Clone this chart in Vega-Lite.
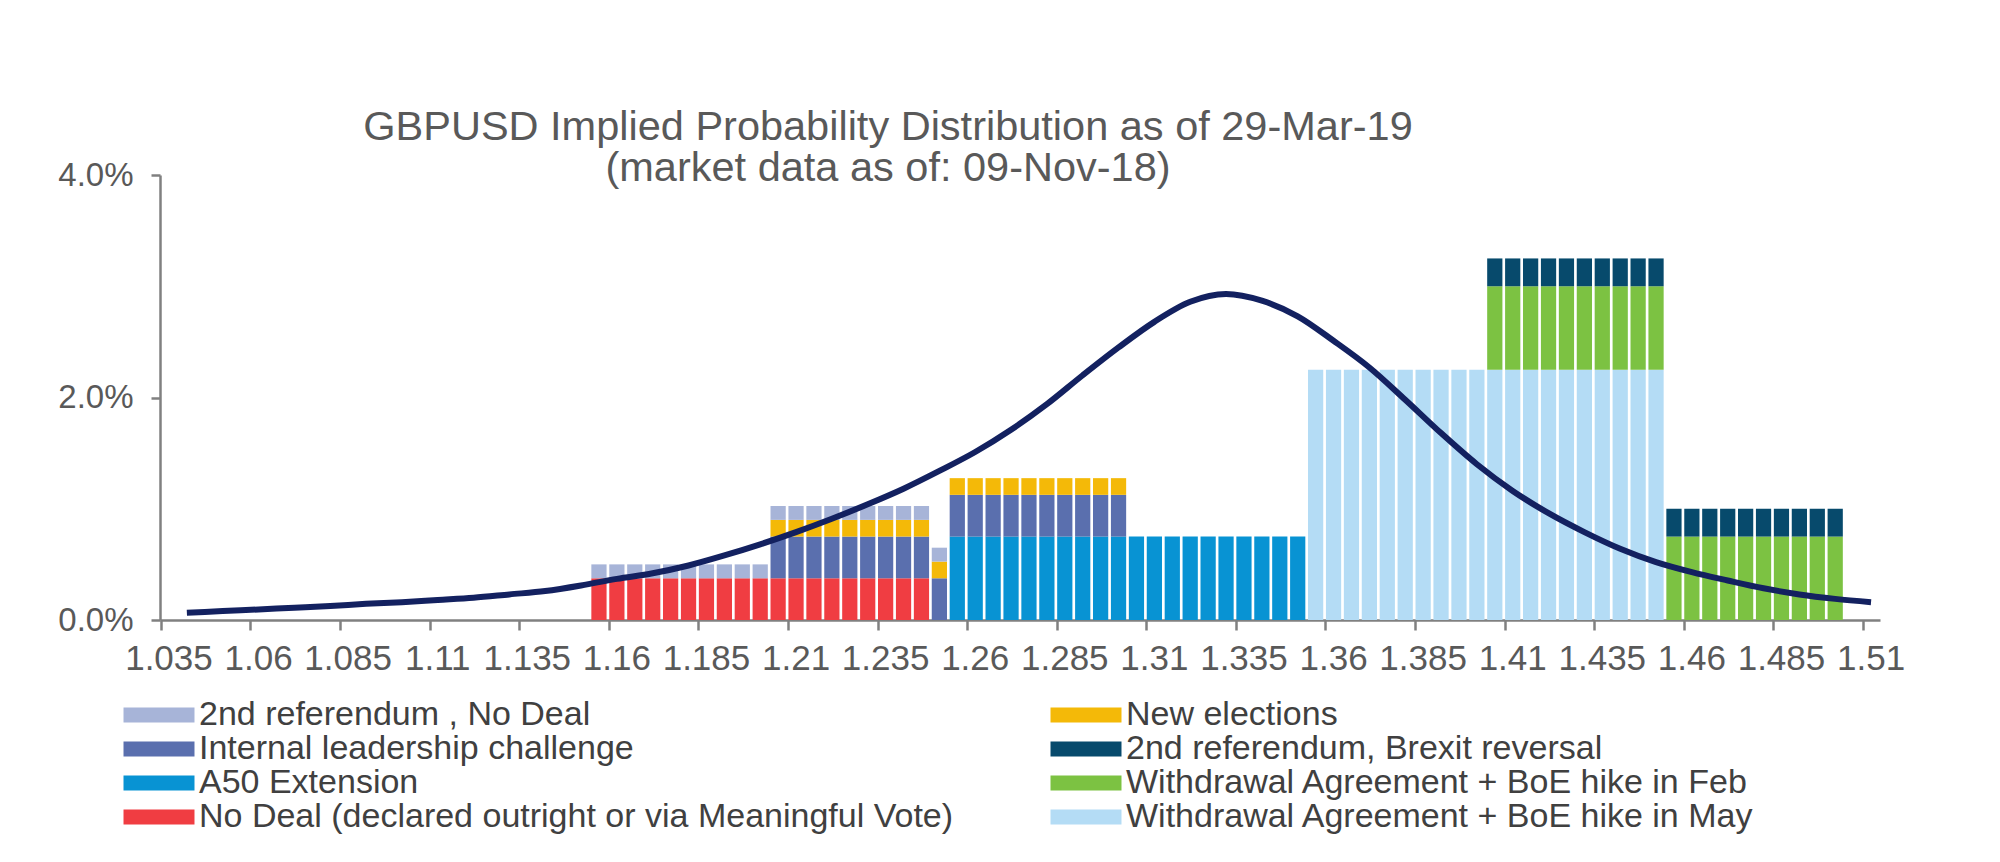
{
  "$schema": "https://vega.github.io/schema/vega-lite/v6.json",
  "width": 1720,
  "height": 445,
  "autosize": {"type": "none"},
  "padding": {"left": 160, "top": 175, "right": 120, "bottom": 242},
  "background": "white",
  "title": {
    "text": ["GBPUSD Implied Probability Distribution as of 29-Mar-19", "(market data as of: 09-Nov-18)"],
    "anchor": "middle",
    "frame": "group",
    "dx": -132,
    "offset": -30,
    "font": "Liberation Sans",
    "fontSize": 41.5,
    "fontWeight": "normal",
    "color": "#595959",
    "lineHeight": 41
  },
  "config": {
    "view": {"stroke": null},
    "legend": {
      "orient": "none",
      "legendX": -38,
      "legendY": 523,
      "columns": 2,
      "columnPadding": 95,
      "rowPadding": -5,
      "symbolType": "M-2.29,-0.484H2.29V0.484H-2.29Z",
      "symbolSize": 961,
      "symbolOffset": 20,
      "symbolStrokeWidth": 0,
      "labelOffset": 23,
      "labelFont": "Liberation Sans",
      "labelFontSize": 34,
      "labelColor": "#404040",
      "labelLimit": 2000,
      "title": null
    }
  },
  "datasets": {
    "bars": [
      {"x":1.155,"scenario":"No Deal (declared outright or via Meaningful Vote)","rank":1,"p":0.00375},
      {"x":1.16,"scenario":"No Deal (declared outright or via Meaningful Vote)","rank":1,"p":0.00375},
      {"x":1.165,"scenario":"No Deal (declared outright or via Meaningful Vote)","rank":1,"p":0.00375},
      {"x":1.17,"scenario":"No Deal (declared outright or via Meaningful Vote)","rank":1,"p":0.00375},
      {"x":1.175,"scenario":"No Deal (declared outright or via Meaningful Vote)","rank":1,"p":0.00375},
      {"x":1.18,"scenario":"No Deal (declared outright or via Meaningful Vote)","rank":1,"p":0.00375},
      {"x":1.185,"scenario":"No Deal (declared outright or via Meaningful Vote)","rank":1,"p":0.00375},
      {"x":1.19,"scenario":"No Deal (declared outright or via Meaningful Vote)","rank":1,"p":0.00375},
      {"x":1.195,"scenario":"No Deal (declared outright or via Meaningful Vote)","rank":1,"p":0.00375},
      {"x":1.2,"scenario":"No Deal (declared outright or via Meaningful Vote)","rank":1,"p":0.00375},
      {"x":1.205,"scenario":"No Deal (declared outright or via Meaningful Vote)","rank":1,"p":0.00375},
      {"x":1.21,"scenario":"No Deal (declared outright or via Meaningful Vote)","rank":1,"p":0.00375},
      {"x":1.215,"scenario":"No Deal (declared outright or via Meaningful Vote)","rank":1,"p":0.00375},
      {"x":1.22,"scenario":"No Deal (declared outright or via Meaningful Vote)","rank":1,"p":0.00375},
      {"x":1.225,"scenario":"No Deal (declared outright or via Meaningful Vote)","rank":1,"p":0.00375},
      {"x":1.23,"scenario":"No Deal (declared outright or via Meaningful Vote)","rank":1,"p":0.00375},
      {"x":1.235,"scenario":"No Deal (declared outright or via Meaningful Vote)","rank":1,"p":0.00375},
      {"x":1.24,"scenario":"No Deal (declared outright or via Meaningful Vote)","rank":1,"p":0.00375},
      {"x":1.245,"scenario":"No Deal (declared outright or via Meaningful Vote)","rank":1,"p":0.00375},
      {"x":1.255,"scenario":"A50 Extension","rank":2,"p":0.0075},
      {"x":1.26,"scenario":"A50 Extension","rank":2,"p":0.0075},
      {"x":1.265,"scenario":"A50 Extension","rank":2,"p":0.0075},
      {"x":1.27,"scenario":"A50 Extension","rank":2,"p":0.0075},
      {"x":1.275,"scenario":"A50 Extension","rank":2,"p":0.0075},
      {"x":1.28,"scenario":"A50 Extension","rank":2,"p":0.0075},
      {"x":1.285,"scenario":"A50 Extension","rank":2,"p":0.0075},
      {"x":1.29,"scenario":"A50 Extension","rank":2,"p":0.0075},
      {"x":1.295,"scenario":"A50 Extension","rank":2,"p":0.0075},
      {"x":1.3,"scenario":"A50 Extension","rank":2,"p":0.0075},
      {"x":1.305,"scenario":"A50 Extension","rank":2,"p":0.0075},
      {"x":1.31,"scenario":"A50 Extension","rank":2,"p":0.0075},
      {"x":1.315,"scenario":"A50 Extension","rank":2,"p":0.0075},
      {"x":1.32,"scenario":"A50 Extension","rank":2,"p":0.0075},
      {"x":1.325,"scenario":"A50 Extension","rank":2,"p":0.0075},
      {"x":1.33,"scenario":"A50 Extension","rank":2,"p":0.0075},
      {"x":1.335,"scenario":"A50 Extension","rank":2,"p":0.0075},
      {"x":1.34,"scenario":"A50 Extension","rank":2,"p":0.0075},
      {"x":1.345,"scenario":"A50 Extension","rank":2,"p":0.0075},
      {"x":1.35,"scenario":"A50 Extension","rank":2,"p":0.0075},
      {"x":1.355,"scenario":"Withdrawal Agreement + BoE hike in May","rank":3,"p":0.0225},
      {"x":1.36,"scenario":"Withdrawal Agreement + BoE hike in May","rank":3,"p":0.0225},
      {"x":1.365,"scenario":"Withdrawal Agreement + BoE hike in May","rank":3,"p":0.0225},
      {"x":1.37,"scenario":"Withdrawal Agreement + BoE hike in May","rank":3,"p":0.0225},
      {"x":1.375,"scenario":"Withdrawal Agreement + BoE hike in May","rank":3,"p":0.0225},
      {"x":1.38,"scenario":"Withdrawal Agreement + BoE hike in May","rank":3,"p":0.0225},
      {"x":1.385,"scenario":"Withdrawal Agreement + BoE hike in May","rank":3,"p":0.0225},
      {"x":1.39,"scenario":"Withdrawal Agreement + BoE hike in May","rank":3,"p":0.0225},
      {"x":1.395,"scenario":"Withdrawal Agreement + BoE hike in May","rank":3,"p":0.0225},
      {"x":1.4,"scenario":"Withdrawal Agreement + BoE hike in May","rank":3,"p":0.0225},
      {"x":1.405,"scenario":"Withdrawal Agreement + BoE hike in May","rank":3,"p":0.0225},
      {"x":1.41,"scenario":"Withdrawal Agreement + BoE hike in May","rank":3,"p":0.0225},
      {"x":1.415,"scenario":"Withdrawal Agreement + BoE hike in May","rank":3,"p":0.0225},
      {"x":1.42,"scenario":"Withdrawal Agreement + BoE hike in May","rank":3,"p":0.0225},
      {"x":1.425,"scenario":"Withdrawal Agreement + BoE hike in May","rank":3,"p":0.0225},
      {"x":1.43,"scenario":"Withdrawal Agreement + BoE hike in May","rank":3,"p":0.0225},
      {"x":1.435,"scenario":"Withdrawal Agreement + BoE hike in May","rank":3,"p":0.0225},
      {"x":1.44,"scenario":"Withdrawal Agreement + BoE hike in May","rank":3,"p":0.0225},
      {"x":1.445,"scenario":"Withdrawal Agreement + BoE hike in May","rank":3,"p":0.0225},
      {"x":1.45,"scenario":"Withdrawal Agreement + BoE hike in May","rank":3,"p":0.0225},
      {"x":1.205,"scenario":"Internal leadership challenge","rank":4,"p":0.00375},
      {"x":1.21,"scenario":"Internal leadership challenge","rank":4,"p":0.00375},
      {"x":1.215,"scenario":"Internal leadership challenge","rank":4,"p":0.00375},
      {"x":1.22,"scenario":"Internal leadership challenge","rank":4,"p":0.00375},
      {"x":1.225,"scenario":"Internal leadership challenge","rank":4,"p":0.00375},
      {"x":1.23,"scenario":"Internal leadership challenge","rank":4,"p":0.00375},
      {"x":1.235,"scenario":"Internal leadership challenge","rank":4,"p":0.00375},
      {"x":1.24,"scenario":"Internal leadership challenge","rank":4,"p":0.00375},
      {"x":1.245,"scenario":"Internal leadership challenge","rank":4,"p":0.00375},
      {"x":1.25,"scenario":"Internal leadership challenge","rank":4,"p":0.00375},
      {"x":1.255,"scenario":"Internal leadership challenge","rank":4,"p":0.00375},
      {"x":1.26,"scenario":"Internal leadership challenge","rank":4,"p":0.00375},
      {"x":1.265,"scenario":"Internal leadership challenge","rank":4,"p":0.00375},
      {"x":1.27,"scenario":"Internal leadership challenge","rank":4,"p":0.00375},
      {"x":1.275,"scenario":"Internal leadership challenge","rank":4,"p":0.00375},
      {"x":1.28,"scenario":"Internal leadership challenge","rank":4,"p":0.00375},
      {"x":1.285,"scenario":"Internal leadership challenge","rank":4,"p":0.00375},
      {"x":1.29,"scenario":"Internal leadership challenge","rank":4,"p":0.00375},
      {"x":1.295,"scenario":"Internal leadership challenge","rank":4,"p":0.00375},
      {"x":1.3,"scenario":"Internal leadership challenge","rank":4,"p":0.00375},
      {"x":1.405,"scenario":"Withdrawal Agreement + BoE hike in Feb","rank":5,"p":0.0075},
      {"x":1.41,"scenario":"Withdrawal Agreement + BoE hike in Feb","rank":5,"p":0.0075},
      {"x":1.415,"scenario":"Withdrawal Agreement + BoE hike in Feb","rank":5,"p":0.0075},
      {"x":1.42,"scenario":"Withdrawal Agreement + BoE hike in Feb","rank":5,"p":0.0075},
      {"x":1.425,"scenario":"Withdrawal Agreement + BoE hike in Feb","rank":5,"p":0.0075},
      {"x":1.43,"scenario":"Withdrawal Agreement + BoE hike in Feb","rank":5,"p":0.0075},
      {"x":1.435,"scenario":"Withdrawal Agreement + BoE hike in Feb","rank":5,"p":0.0075},
      {"x":1.44,"scenario":"Withdrawal Agreement + BoE hike in Feb","rank":5,"p":0.0075},
      {"x":1.445,"scenario":"Withdrawal Agreement + BoE hike in Feb","rank":5,"p":0.0075},
      {"x":1.45,"scenario":"Withdrawal Agreement + BoE hike in Feb","rank":5,"p":0.0075},
      {"x":1.455,"scenario":"Withdrawal Agreement + BoE hike in Feb","rank":5,"p":0.0075},
      {"x":1.46,"scenario":"Withdrawal Agreement + BoE hike in Feb","rank":5,"p":0.0075},
      {"x":1.465,"scenario":"Withdrawal Agreement + BoE hike in Feb","rank":5,"p":0.0075},
      {"x":1.47,"scenario":"Withdrawal Agreement + BoE hike in Feb","rank":5,"p":0.0075},
      {"x":1.475,"scenario":"Withdrawal Agreement + BoE hike in Feb","rank":5,"p":0.0075},
      {"x":1.48,"scenario":"Withdrawal Agreement + BoE hike in Feb","rank":5,"p":0.0075},
      {"x":1.485,"scenario":"Withdrawal Agreement + BoE hike in Feb","rank":5,"p":0.0075},
      {"x":1.49,"scenario":"Withdrawal Agreement + BoE hike in Feb","rank":5,"p":0.0075},
      {"x":1.495,"scenario":"Withdrawal Agreement + BoE hike in Feb","rank":5,"p":0.0075},
      {"x":1.5,"scenario":"Withdrawal Agreement + BoE hike in Feb","rank":5,"p":0.0075},
      {"x":1.205,"scenario":"New elections","rank":6,"p":0.0015},
      {"x":1.21,"scenario":"New elections","rank":6,"p":0.0015},
      {"x":1.215,"scenario":"New elections","rank":6,"p":0.0015},
      {"x":1.22,"scenario":"New elections","rank":6,"p":0.0015},
      {"x":1.225,"scenario":"New elections","rank":6,"p":0.0015},
      {"x":1.23,"scenario":"New elections","rank":6,"p":0.0015},
      {"x":1.235,"scenario":"New elections","rank":6,"p":0.0015},
      {"x":1.24,"scenario":"New elections","rank":6,"p":0.0015},
      {"x":1.245,"scenario":"New elections","rank":6,"p":0.0015},
      {"x":1.25,"scenario":"New elections","rank":6,"p":0.0015},
      {"x":1.255,"scenario":"New elections","rank":6,"p":0.0015},
      {"x":1.26,"scenario":"New elections","rank":6,"p":0.0015},
      {"x":1.265,"scenario":"New elections","rank":6,"p":0.0015},
      {"x":1.27,"scenario":"New elections","rank":6,"p":0.0015},
      {"x":1.275,"scenario":"New elections","rank":6,"p":0.0015},
      {"x":1.28,"scenario":"New elections","rank":6,"p":0.0015},
      {"x":1.285,"scenario":"New elections","rank":6,"p":0.0015},
      {"x":1.29,"scenario":"New elections","rank":6,"p":0.0015},
      {"x":1.295,"scenario":"New elections","rank":6,"p":0.0015},
      {"x":1.3,"scenario":"New elections","rank":6,"p":0.0015},
      {"x":1.155,"scenario":"2nd referendum , No Deal","rank":7,"p":0.00125},
      {"x":1.16,"scenario":"2nd referendum , No Deal","rank":7,"p":0.00125},
      {"x":1.165,"scenario":"2nd referendum , No Deal","rank":7,"p":0.00125},
      {"x":1.17,"scenario":"2nd referendum , No Deal","rank":7,"p":0.00125},
      {"x":1.175,"scenario":"2nd referendum , No Deal","rank":7,"p":0.00125},
      {"x":1.18,"scenario":"2nd referendum , No Deal","rank":7,"p":0.00125},
      {"x":1.185,"scenario":"2nd referendum , No Deal","rank":7,"p":0.00125},
      {"x":1.19,"scenario":"2nd referendum , No Deal","rank":7,"p":0.00125},
      {"x":1.195,"scenario":"2nd referendum , No Deal","rank":7,"p":0.00125},
      {"x":1.2,"scenario":"2nd referendum , No Deal","rank":7,"p":0.00125},
      {"x":1.205,"scenario":"2nd referendum , No Deal","rank":7,"p":0.00125},
      {"x":1.21,"scenario":"2nd referendum , No Deal","rank":7,"p":0.00125},
      {"x":1.215,"scenario":"2nd referendum , No Deal","rank":7,"p":0.00125},
      {"x":1.22,"scenario":"2nd referendum , No Deal","rank":7,"p":0.00125},
      {"x":1.225,"scenario":"2nd referendum , No Deal","rank":7,"p":0.00125},
      {"x":1.23,"scenario":"2nd referendum , No Deal","rank":7,"p":0.00125},
      {"x":1.235,"scenario":"2nd referendum , No Deal","rank":7,"p":0.00125},
      {"x":1.24,"scenario":"2nd referendum , No Deal","rank":7,"p":0.00125},
      {"x":1.245,"scenario":"2nd referendum , No Deal","rank":7,"p":0.00125},
      {"x":1.25,"scenario":"2nd referendum , No Deal","rank":7,"p":0.00125},
      {"x":1.405,"scenario":"2nd referendum, Brexit reversal","rank":8,"p":0.0025},
      {"x":1.41,"scenario":"2nd referendum, Brexit reversal","rank":8,"p":0.0025},
      {"x":1.415,"scenario":"2nd referendum, Brexit reversal","rank":8,"p":0.0025},
      {"x":1.42,"scenario":"2nd referendum, Brexit reversal","rank":8,"p":0.0025},
      {"x":1.425,"scenario":"2nd referendum, Brexit reversal","rank":8,"p":0.0025},
      {"x":1.43,"scenario":"2nd referendum, Brexit reversal","rank":8,"p":0.0025},
      {"x":1.435,"scenario":"2nd referendum, Brexit reversal","rank":8,"p":0.0025},
      {"x":1.44,"scenario":"2nd referendum, Brexit reversal","rank":8,"p":0.0025},
      {"x":1.445,"scenario":"2nd referendum, Brexit reversal","rank":8,"p":0.0025},
      {"x":1.45,"scenario":"2nd referendum, Brexit reversal","rank":8,"p":0.0025},
      {"x":1.455,"scenario":"2nd referendum, Brexit reversal","rank":8,"p":0.0025},
      {"x":1.46,"scenario":"2nd referendum, Brexit reversal","rank":8,"p":0.0025},
      {"x":1.465,"scenario":"2nd referendum, Brexit reversal","rank":8,"p":0.0025},
      {"x":1.47,"scenario":"2nd referendum, Brexit reversal","rank":8,"p":0.0025},
      {"x":1.475,"scenario":"2nd referendum, Brexit reversal","rank":8,"p":0.0025},
      {"x":1.48,"scenario":"2nd referendum, Brexit reversal","rank":8,"p":0.0025},
      {"x":1.485,"scenario":"2nd referendum, Brexit reversal","rank":8,"p":0.0025},
      {"x":1.49,"scenario":"2nd referendum, Brexit reversal","rank":8,"p":0.0025},
      {"x":1.495,"scenario":"2nd referendum, Brexit reversal","rank":8,"p":0.0025},
      {"x":1.5,"scenario":"2nd referendum, Brexit reversal","rank":8,"p":0.0025}
    ],
    "curve": [
      {"x":1.04,"d":0.00065},{"x":1.05,"d":0.0008},{"x":1.06,"d":0.00095},{"x":1.07,"d":0.0011},
      {"x":1.08,"d":0.00125},{"x":1.09,"d":0.00145},{"x":1.1,"d":0.0016},{"x":1.11,"d":0.0018},
      {"x":1.12,"d":0.002},{"x":1.13,"d":0.0023},{"x":1.14,"d":0.0026},{"x":1.15,"d":0.0031},
      {"x":1.16,"d":0.0037},{"x":1.17,"d":0.0042},{"x":1.18,"d":0.0049},{"x":1.19,"d":0.0058},
      {"x":1.2,"d":0.0068},{"x":1.21,"d":0.0079},{"x":1.22,"d":0.0091},{"x":1.23,"d":0.0104},
      {"x":1.24,"d":0.0118},{"x":1.25,"d":0.0134},{"x":1.26,"d":0.0151},{"x":1.27,"d":0.0171},
      {"x":1.28,"d":0.0194},{"x":1.29,"d":0.022},{"x":1.3,"d":0.0245},{"x":1.31,"d":0.0268},
      {"x":1.32,"d":0.0286},{"x":1.33,"d":0.0293},{"x":1.34,"d":0.0287},{"x":1.35,"d":0.0273},
      {"x":1.36,"d":0.0251},{"x":1.37,"d":0.0227},{"x":1.38,"d":0.0198},{"x":1.39,"d":0.0168},
      {"x":1.4,"d":0.014},{"x":1.41,"d":0.0116},{"x":1.42,"d":0.0096},{"x":1.43,"d":0.0079},
      {"x":1.44,"d":0.0064},{"x":1.45,"d":0.0052},{"x":1.46,"d":0.0043},{"x":1.47,"d":0.00355},
      {"x":1.48,"d":0.00285},{"x":1.49,"d":0.0023},{"x":1.5,"d":0.0019},{"x":1.51,"d":0.0016}
    ]
  },
  "layer": [
    {
      "data": {"name": "bars"},
      "mark": {"type": "bar"},
      "encoding": {
        "x": {
          "field": "x",
          "type": "ordinal",
          "scale": {
            "type": "band",
            "domain": [1.035,1.04,1.045,1.05,1.055,1.06,1.065,1.07,1.075,1.08,1.085,1.09,1.095,1.1,1.105,1.11,1.115,1.12,1.125,1.13,1.135,1.14,1.145,1.15,1.155,1.16,1.165,1.17,1.175,1.18,1.185,1.19,1.195,1.2,1.205,1.21,1.215,1.22,1.225,1.23,1.235,1.24,1.245,1.25,1.255,1.26,1.265,1.27,1.275,1.28,1.285,1.29,1.295,1.3,1.305,1.31,1.315,1.32,1.325,1.33,1.335,1.34,1.345,1.35,1.355,1.36,1.365,1.37,1.375,1.38,1.385,1.39,1.395,1.4,1.405,1.41,1.415,1.42,1.425,1.43,1.435,1.44,1.445,1.45,1.455,1.46,1.465,1.47,1.475,1.48,1.485,1.49,1.495,1.5,1.505,1.51],
            "paddingInner": 0.15,
            "paddingOuter": 0.075
          },
          "axis": {
            "title": null,
            "values": [1.035,1.06,1.085,1.11,1.135,1.16,1.185,1.21,1.235,1.26,1.285,1.31,1.335,1.36,1.385,1.41,1.435,1.46,1.485,1.51],
            "bandPosition": 0,
            "labelAngle": 0,
            "labelOverlap": false,
            "labelFlush": false,
            "labelFont": "Liberation Sans",
            "labelFontSize": 35,
            "labelColor": "#595959",
            "labelPadding": 11,
            "tickSize": 10,
            "tickColor": "#808080",
            "tickWidth": 2.5,
            "domainColor": "#808080",
            "domainWidth": 2.5
          }
        },
        "y": {
          "field": "p",
          "type": "quantitative",
          "stack": "zero",
          "scale": {"domain": [0, 0.04], "nice": false},
          "axis": {
            "title": null,
            "values": [0, 0.02, 0.04],
            "format": ".1%",
            "grid": false,
            "labelFont": "Liberation Sans",
            "labelFontSize": 33,
            "labelColor": "#595959",
            "labelPadding": 18,
            "tickSize": 9,
            "tickColor": "#808080",
            "tickWidth": 2.5,
            "domainColor": "#808080",
            "domainWidth": 2.5
          }
        },
        "color": {
          "field": "scenario",
          "type": "nominal",
          "scale": {
            "domain": ["2nd referendum , No Deal", "Internal leadership challenge", "A50 Extension", "No Deal (declared outright or via Meaningful Vote)", "New elections", "2nd referendum, Brexit reversal", "Withdrawal Agreement + BoE hike in Feb", "Withdrawal Agreement + BoE hike in May"],
            "range": ["#a7b4d8", "#5a6fae", "#0893d3", "#f03d42", "#f4b908", "#074a6c", "#7cc242", "#b4dcf5"]
          }
        },
        "order": {"field": "rank", "type": "quantitative", "sort": "ascending"}
      }
    },
    {
      "data": {"name": "curve"},
      "mark": {"type": "line", "interpolate": "monotone", "strokeWidth": 6, "color": "#132160"},
      "encoding": {
        "x": {"field": "x", "type": "ordinal", "scale": {"type": "band"}},
        "y": {"field": "d", "type": "quantitative"}
      }
    }
  ]
}
